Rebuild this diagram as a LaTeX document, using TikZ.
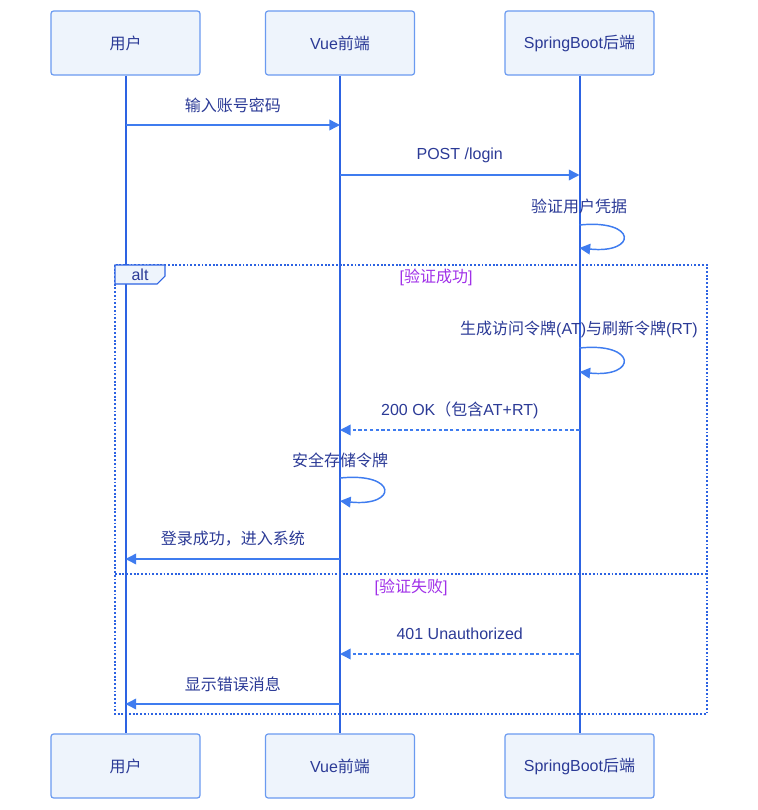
\documentclass[tikz,border=0pt]{standalone}
\usepackage{fontspec}
\setmainfont{Liberation Sans}
\newfontfamily\cjk{Noto Sans CJK SC}
\newcommand{\zh}[1]{{\cjk #1}}
\usepackage{tikz}
\usetikzlibrary{arrows.meta}

\definecolor{actorfill}{HTML}{EEF4FC}
\definecolor{actordraw}{HTML}{6A9AF0}
\definecolor{lifeblue}{HTML}{2D63E2}
\definecolor{msgblue}{HTML}{3F7CEF}
\definecolor{textblue}{HTML}{2B3A96}
\definecolor{guardpurple}{HTML}{A030E8}

\begin{document}
\begin{tikzpicture}[
                x=0.75pt, y=-0.75pt,
                actor/.style={rectangle, rounded corners=2pt, draw=actordraw, line width=0.9pt, fill=actorfill, minimum width=111.75pt, minimum height=48pt, text=textblue, font=\fontsize{12}{14}\selectfont}, % participant box
                lifeline/.style={draw=lifeblue, line width=1.5pt},
                msg/.style={draw=msgblue, line width=1.1pt, -{Triangle[length=8pt, width=8pt]}},
                reply/.style={msg, dash pattern=on 2.5pt off 1.8pt},
                lbl/.style={text=textblue, font=\fontsize{12}{14}\selectfont},
                guard/.style={text=guardpurple, font=\fontsize{12}{14}\selectfont},
                frame/.style={draw=lifeblue, line width=1.4pt, dash pattern=on 1.4pt off 1.4pt}
                ]
                \useasboundingbox (0,0) rectangle (757,810);
                % participants
                \node[actor] (user) at (125.5,43) {\zh{用户}};
                \node[actor] (vue) at (340,43) {Vue\zh{前端}};
                \node[actor] (boot) at (579.5,43) {SpringBoot\zh{后端}};
                \node[actor] (userB) at (125.5,766) {\zh{用户}};
                \node[actor] (vueB) at (340,766) {Vue\zh{前端}};
                \node[actor] (bootB) at (579.5,766) {SpringBoot\zh{后端}};
                % lifelines
                \draw[lifeline] (user) -- (userB);
                \draw[lifeline] (vue) -- (vueB);
                \draw[lifeline] (boot) -- (bootB);
                % login request
                \draw[msg] (user |- 0,125) -- node[lbl, midway, yshift=15pt] {\zh{输入账号密码}} (vue |- 0,125);
                \draw[msg] (vue |- 0,175) -- node[lbl, midway, yshift=15pt] {POST /login} (boot |- 0,175);
                \node[lbl] (check) at (579,206) {\zh{验证用户凭据}};
                \draw[msg] (boot |- 0,225) .. controls +(58,-6) and +(58,6) .. (boot |- 0,248);
                % alt frame
                \draw[frame] (115,265) rectangle (707,714);
                \draw[draw=lifeblue, line width=0.8pt, fill=actorfill] (115,265) -- (165,265) -- (165,276) -- (157,284) -- (115,284) -- cycle;
                \node[lbl] (alt) at (140,275) {alt};
                \node[guard] (ok) at (436,277) {[\zh{验证成功}]};
                \node[lbl] (gen) at (579,329) {\zh{生成访问令牌}(AT)\zh{与刷新令牌}(RT)};
                \draw[msg] (boot |- 0,348) .. controls +(58,-6) and +(58,6) .. (boot |- 0,372);
                \draw[reply] (boot |- 0,430) -- node[lbl, midway, yshift=15pt] {200 OK\zh{（包含}AT+RT)} (vue |- 0,430);
                \node[lbl] (store) at (340,460) {\zh{安全存储令牌}};
                \draw[msg] (vue |- 0,478) .. controls +(58,-6) and +(58,6) .. (vue |- 0,501);
                \draw[msg] (vue |- 0,559) -- node[lbl, midway, yshift=15pt] {\zh{登录成功，进入系统}} (user |- 0,559);
                % else part
                \draw[frame] (115,574) -- (707,574);
                \node[guard] (fail) at (411,587) {[\zh{验证失败}]};
                \draw[reply] (boot |- 0,654) -- node[lbl, midway, yshift=15pt] {401 Unauthorized} (vue |- 0,654);
                \draw[msg] (vue |- 0,704) -- node[lbl, midway, yshift=15pt] {\zh{显示错误消息}} (user |- 0,704);
            \end{tikzpicture}
\end{document}
